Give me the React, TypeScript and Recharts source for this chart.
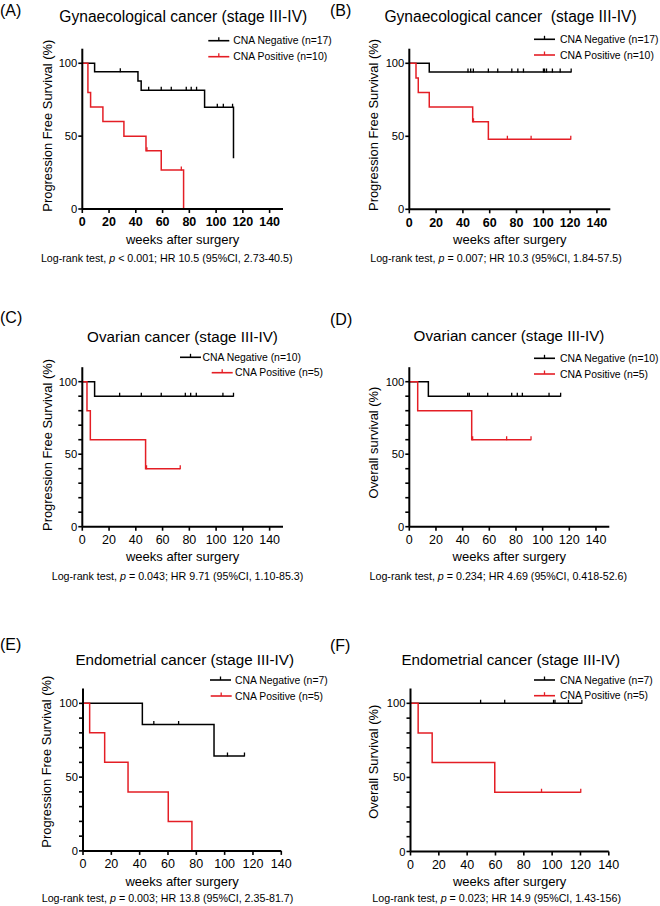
import React from 'react';
import { LineChart, Line, XAxis, YAxis } from 'recharts';

const RED = '#e41e25';
const BLACK = '#000000';
const FONT = '"Liberation Sans", Arial, Helvetica, sans-serif';

type Pt = { t: number; s: number; c?: boolean };

// ---- Data (weeks, survival %, censored flag) ----
const aNeg: Pt[] = [
  { t: 0, s: 100 }, { t: 9.2, s: 94.1 }, { t: 28.4, s: 94.1, c: true }, { t: 41.6, s: 87.8 }, { t: 44, s: 81.5 },
  { t: 49.6, s: 81.5, c: true }, { t: 59, s: 81.5, c: true }, { t: 66.5, s: 81.5, c: true }, { t: 77.7, s: 81.5, c: true },
  { t: 81.4, s: 81.5, c: true }, { t: 85.4, s: 81.5, c: true }, { t: 91.4, s: 69.9 }, { t: 100.9, s: 69.9, c: true },
  { t: 105.4, s: 69.9, c: true }, { t: 112.3, s: 69.9, c: true }, { t: 113, s: 34.9 },
];
const aPos: Pt[] = [
  { t: 0, s: 100 }, { t: 4.2, s: 80 }, { t: 6.2, s: 70 }, { t: 15.4, s: 60 }, { t: 31.1, s: 50 }, { t: 47.6, s: 40 },
  { t: 48.3, s: 40, c: true }, { t: 59, s: 26.7 }, { t: 74, s: 26.7, c: true }, { t: 75.7, s: 0 },
];
const bNeg: Pt[] = [
  { t: 0, s: 100 }, { t: 14.9, s: 94.1 }, { t: 43.8, s: 94.1, c: true }, { t: 45.8, s: 94.1, c: true }, { t: 47.8, s: 94.1, c: true },
  { t: 59, s: 94.1, c: true }, { t: 66, s: 94.1, c: true }, { t: 76.5, s: 94.1, c: true }, { t: 81, s: 94.1, c: true },
  { t: 85.2, s: 94.1, c: true }, { t: 100.1, s: 94.1, c: true }, { t: 100.9, s: 94.1, c: true }, { t: 102.4, s: 94.1, c: true },
  { t: 106.8, s: 94.1, c: true }, { t: 112.6, s: 94.1, c: true }, { t: 120.8, s: 94.1, c: true },
];
const bPos: Pt[] = [
  { t: 0, s: 100 }, { t: 5, s: 90 }, { t: 6.7, s: 80 }, { t: 14.9, s: 70 }, { t: 47.3, s: 60 }, { t: 47.9, s: 60, c: true },
  { t: 59, s: 48 }, { t: 73.2, s: 48, c: true }, { t: 90.9, s: 48, c: true }, { t: 120.5, s: 48, c: true },
];
const cNeg: Pt[] = [
  { t: 0, s: 100 }, { t: 9.2, s: 90 }, { t: 27.9, s: 90, c: true }, { t: 44.1, s: 90, c: true }, { t: 59, s: 90, c: true },
  { t: 77, s: 90, c: true }, { t: 81, s: 90, c: true }, { t: 85.2, s: 90, c: true }, { t: 105.1, s: 90, c: true },
  { t: 113, s: 90, c: true },
];
const cPos: Pt[] = [
  { t: 0, s: 100 }, { t: 3.5, s: 80 }, { t: 6, s: 60 }, { t: 47.3, s: 40 }, { t: 48, s: 40, c: true }, { t: 73.2, s: 40, c: true },
];
const dNeg: Pt[] = [
  { t: 0, s: 100 }, { t: 14.3, s: 90 }, { t: 43.8, s: 90, c: true }, { t: 45, s: 90, c: true }, { t: 58.8, s: 90, c: true },
  { t: 76.8, s: 90, c: true }, { t: 81, s: 90, c: true }, { t: 84.8, s: 90, c: true }, { t: 104.8, s: 90, c: true },
  { t: 113.5, s: 90, c: true },
];
const dPos: Pt[] = [
  { t: 0, s: 100 }, { t: 6.3, s: 80 }, { t: 46.8, s: 60 }, { t: 47.5, s: 60, c: true }, { t: 73, s: 60, c: true }, { t: 91.3, s: 60, c: true },
];
const eNeg: Pt[] = [
  { t: 0, s: 100 }, { t: 41.9, s: 85.7 }, { t: 50, s: 85.7, c: true }, { t: 67.5, s: 85.7, c: true }, { t: 92.5, s: 64.3 },
  { t: 102, s: 64.3, c: true }, { t: 114, s: 64.3, c: true },
];
const ePos: Pt[] = [
  { t: 0, s: 100 }, { t: 4.7, s: 80 }, { t: 15.3, s: 60 }, { t: 31.8, s: 40 }, { t: 60.2, s: 20 }, { t: 76.9, s: 0 },
];
const fNeg: Pt[] = [
  { t: 0, s: 100 }, { t: 49.5, s: 100, c: true }, { t: 66.5, s: 100, c: true }, { t: 101, s: 100, c: true },
  { t: 102, s: 100, c: true }, { t: 111.5, s: 100, c: true }, { t: 121, s: 100, c: true },
];
const fPos: Pt[] = [
  { t: 0, s: 100 }, { t: 5.4, s: 80 }, { t: 15.3, s: 60 }, { t: 59.5, s: 40 }, { t: 92.5, s: 40, c: true }, { t: 120.2, s: 40, c: true },
];

const negSeries = [aNeg, bNeg, cNeg, dNeg, eNeg, fNeg];
const posSeries = [aPos, bPos, cPos, dPos, ePos, fPos];

// ---- Text ----
const panelLetters = ['(A)', '(B)', '(C)', '(D)', '(E)', '(F)'];
const titles = [
  'Gynaecological cancer (stage III-IV)',
  'Gynaecological cancer\u00a0 (stage III-IV)',
  'Ovarian cancer (stage III-IV)',
  'Ovarian cancer (stage III-IV)',
  'Endometrial cancer (stage III-IV)',
  'Endometrial cancer (stage III-IV)',
];
const yLabels = [
  'Progression Free Survival (%)',
  'Progression Free Survival (%)',
  'Progression Free Survival (%)',
  'Overall survival (%)',
  'Progression Free Survival (%)',
  'Overall Survival (%)',
];
const negLabels = ['CNA Negative (n=17)', 'CNA Negative (n=17)', 'CNA Negative (n=10)', 'CNA Negative (n=10)', 'CNA Negative (n=7)', 'CNA Negative (n=7)'];
const posLabels = ['CNA Positive (n=10)', 'CNA Positive (n=10)', 'CNA Positive (n=5)', 'CNA Positive (n=5)', 'CNA Positive (n=5)', 'CNA Positive (n=5)'];
const pTexts = ['< 0.001', '= 0.007', '= 0.043', '= 0.234', '= 0.003', '= 0.023'];
const hrTexts = [
  'HR 10.5 (95%CI, 2.73-40.5)',
  'HR 10.3 (95%CI, 1.84-57.5)',
  'HR 9.71 (95%CI, 1.10-85.3)',
  'HR 4.69 (95%CI, 0.418-52.6)',
  'HR 13.8 (95%CI, 2.35-81.7)',
  'HR 14.9 (95%CI, 1.43-156)',
];
const xAxisTitle = 'weeks after surgery';
const xTicks = [0, 20, 40, 60, 80, 100, 120, 140];
const yMajorTicks = [0, 50, 100];
const yMinorTicks = [0, 10, 20, 30, 40, 50, 60, 70, 80, 90, 100];

// ---- Layout (pixels) ----
const geo = [
  { cx: 0, cy: 0, ch: 300, pl: 82.3, pt: 48.7, pr: 283, pb: 209, xMax: 150, minor: false, bold: true },
  { cx: 330, cy: 0, ch: 300, pl: 409.3, pt: 48.7, pr: 610.3, pb: 209.3, xMax: 150, minor: false, bold: true },
  { cx: 0, cy: 300, ch: 300, pl: 82.3, pt: 367.2, pr: 283, pb: 526.7, xMax: 150, minor: true, bold: false },
  { cx: 330, cy: 300, ch: 300, pl: 409.3, pt: 367.2, pr: 609.3, pb: 526.7, xMax: 150, minor: true, bold: false },
  { cx: 0, cy: 600, ch: 306, pl: 83, pt: 688.6, pr: 281.3, pb: 850.9, xMax: 140, minor: true, bold: false },
  { cx: 330, cy: 600, ch: 306, pl: 410.5, pt: 688.5, pr: 608.8, pb: 851.5, xMax: 140, minor: true, bold: false },
];
const textPos = [
  { lx: 0, ly: 10, tx: 183.3, ty: 16, tf: 15.6, leg: [[208.3, 40.7, 233.3], [208.3, 56.7, 233.3]], yl: [47.5, 125.7], xly: 239, st: [166.7, 258.3] },
  { lx: 330, ly: 10, tx: 510.5, ty: 16, tf: 15.6, leg: [[534, 39.3, 560], [534, 55, 560]], yl: [373, 125], xly: 239, st: [496, 258.3] },
  { lx: 0, ly: 317.5, tx: 182.5, ty: 336.7, tf: 15.2, leg: [[180, 357.3, 202.5], [211.7, 372.7, 235]], yl: [47, 445], xly: 556, st: [177.5, 576] },
  { lx: 330, ly: 319, tx: 509, ty: 335.7, tf: 15.2, leg: [[534, 358.3, 560], [534, 374, 560]], yl: [373.3, 442.5], xly: 556, st: [498.3, 576] },
  { lx: 0, ly: 644, tx: 184.7, ty: 659, tf: 15.2, leg: [[210, 680, 235], [210.7, 696, 235]], yl: [47, 761.7], xly: 881.7, st: [167.5, 898.3] },
  { lx: 330, ly: 645, tx: 510.8, ty: 659, tf: 15.2, leg: [[534, 680, 560], [534, 695.7, 560]], yl: [373.3, 761.7], xly: 881.7, st: [496.7, 898.3] },
];

const YAW = 40;
const XAH = 30;

const censorDot = (color: string) => (props: any) => {
  const { cx, cy, payload, index } = props;
  if (!payload || !payload.c || cx == null || cy == null) return <g key={`d${index}`} />;
  return <line key={`d${index}`} x1={cx} x2={cx} y1={cy - 3.5} y2={cy + 0.5} stroke={color} strokeWidth={1.3} />;
};

const makeXTick = (bold: boolean) => (props: any) => {
  const { x, y, payload } = props;
  return (
    <text x={x} y={y} dy="0.71em" textAnchor="middle" fontSize={12.5} fontWeight={bold ? 700 : 400} fill="#000" fontFamily={FONT}>
      {payload.value}
    </text>
  );
};

const YTick = (props: any) => {
  const { x, y, payload } = props;
  if (!yMajorTicks.includes(payload.value)) return <g />;
  return (
    <text x={x} y={y} dy="0.36em" textAnchor="end" fontSize={11.2} fill="#000" fontFamily={FONT}>
      {payload.value}
    </text>
  );
};

function Panel({ i }: { i: number }) {
  const g = geo[i];
  const margin = {
    top: g.pt - g.cy,
    left: g.pl - g.cx - YAW,
    right: g.cx + 330 - g.pr,
    bottom: g.cy + g.ch - g.pb - XAH,
  };
  return (
    <div style={{ position: 'absolute', left: g.cx, top: g.cy, width: 330, height: g.ch }}>
      <LineChart width={330} height={g.ch} margin={margin}>
        <XAxis
          type="number"
          dataKey="t"
          domain={[0, g.xMax]}
          ticks={xTicks}
          interval={0}
          height={XAH}
          tickSize={4}
          tickMargin={4.5}
          axisLine={{ stroke: '#000', strokeWidth: 2 }}
          tickLine={{ stroke: '#000', strokeWidth: 1.6 }}
          tick={makeXTick(g.bold)}
          allowDataOverflow
        />
        <YAxis
          type="number"
          domain={[0, 110]}
          ticks={g.minor ? yMinorTicks : yMajorTicks}
          interval={0}
          width={YAW}
          tickSize={4}
          tickMargin={1}
          axisLine={{ stroke: '#000', strokeWidth: 2 }}
          tickLine={{ stroke: '#000', strokeWidth: 1.6 }}
          tick={YTick}
          allowDataOverflow
        />
        <Line
          data={negSeries[i]}
          dataKey="s"
          type="stepAfter"
          stroke={BLACK}
          strokeWidth={1.5}
          dot={censorDot(BLACK)}
          activeDot={false}
          isAnimationActive={false}
        />
        <Line
          data={posSeries[i]}
          dataKey="s"
          type="stepAfter"
          stroke={RED}
          strokeWidth={1.5}
          dot={censorDot(RED)}
          activeDot={false}
          isAnimationActive={false}
        />
      </LineChart>
    </div>
  );
}

export default function App() {
  return (
    <div style={{ position: 'absolute', left: 0, top: 0, width: 660, height: 906, background: '#fff', overflow: 'hidden' }}>
      {geo.map((_, i) => (
        <Panel key={i} i={i} />
      ))}
      <svg width={660} height={906} style={{ position: 'absolute', left: 0, top: 0, pointerEvents: 'none' }} fontFamily={FONT}>
        {textPos.map((p, i) => {
          const g = geo[i];
          const xc = (g.pl + g.pr) / 2;
          return (
            <g key={i}>
              <text x={p.lx} y={p.ly} fontSize={16} dominantBaseline="central" fill="#000">{panelLetters[i]}</text>
              <text x={p.tx} y={p.ty} fontSize={p.tf} textAnchor="middle" dominantBaseline="central" fill="#000" style={{ whiteSpace: 'pre' }}>{titles[i]}</text>
              {p.leg.map((l, k) => {
                const color = k === 0 ? BLACK : RED;
                const label = k === 0 ? negLabels[i] : posLabels[i];
                return (
                  <g key={k}>
                    <line x1={l[0]} x2={l[0] + 21} y1={l[1]} y2={l[1]} stroke={color} strokeWidth={1.6} />
                    <line x1={l[0] + 10.5} x2={l[0] + 10.5} y1={l[1] - 3.5} y2={l[1]} stroke={color} strokeWidth={1.3} />
                    <text x={l[2]} y={l[1]} fontSize={10.4} dominantBaseline="central" fill="#000">{label}</text>
                  </g>
                );
              })}
              <text
                x={p.yl[0]}
                y={p.yl[1]}
                fontSize={12.9}
                textAnchor="middle"
                dominantBaseline="central"
                transform={`rotate(-90 ${p.yl[0]} ${p.yl[1]})`}
                fill="#000"
              >
                {yLabels[i]}
              </text>
              <text x={xc} y={p.xly} fontSize={13} textAnchor="middle" dominantBaseline="central" fill="#000">{xAxisTitle}</text>
              <text x={p.st[0]} y={p.st[1]} fontSize={10.7} textAnchor="middle" dominantBaseline="central" fill="#000">
                {'Log-rank test, '}
                <tspan fontStyle="italic">p</tspan>
                {` ${pTexts[i]}; ${hrTexts[i]}`}
              </text>
            </g>
          );
        })}
      </svg>
    </div>
  );
}
